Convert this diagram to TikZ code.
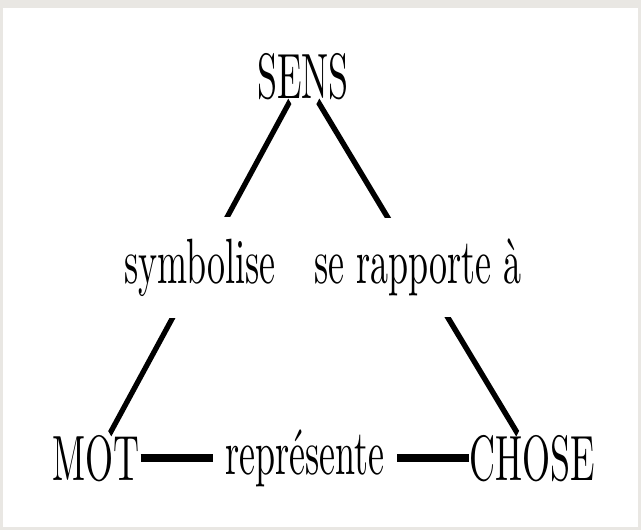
\documentclass[tikz,border=0pt]{standalone}
\definecolor{framegray}{RGB}{233,231,227}
\tikzset{
  term/.style={inner sep=0pt},
  rel/.style={fill=white, inner sep=.3333em},
  link/.style={line width=1.2pt}
}
\begin{document}
\begin{tikzpicture}[x=0.5pt,y=-0.5pt]
\useasboundingbox (0,0) rectangle (641,530);
\fill[framegray] (0,0) rectangle (641,530);
\fill[white] (3,8) rectangle (638,527);
% the triangle, stretched like the screenshot
\begin{scope}[x=1pt,y=1pt,transform canvas={xscale=1.8,yscale=3.2}]
\node[term] (sens) at (84.2,-12.0) {SENS};
\node[term] (mot) at (26.8,-71.6) {MOT};
\node[term] (chose) at (147.9,-71.6) {CHOSE};
\draw[link] (mot) -- node[rel] {symbolise} (sens);
\draw[link] (sens) -- node[rel] {se rapporte à} (chose);
\draw[link] (mot) -- node[rel] {représente} (chose);
\end{scope}
\end{tikzpicture}
\end{document}
